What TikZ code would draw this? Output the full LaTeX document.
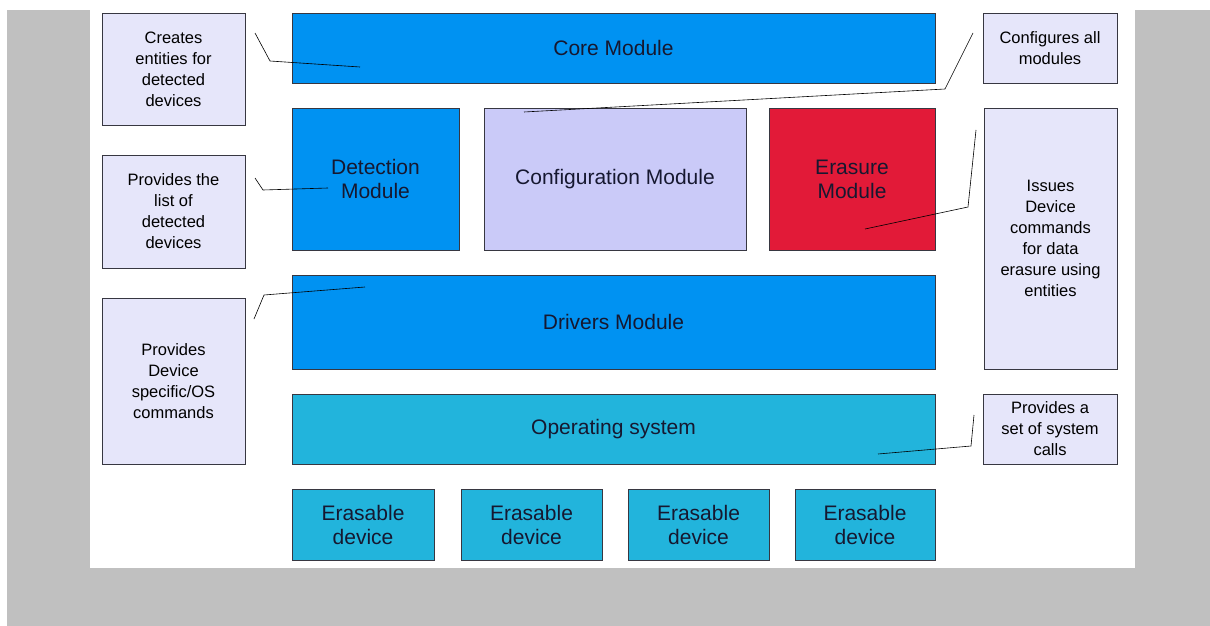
\documentclass[tikz,border=0pt]{standalone}
\usepackage{fontspec}
\setmainfont{Liberation Sans}
\usetikzlibrary{positioning}
\definecolor{modblue}{RGB}{0,146,242}
\definecolor{confcol}{RGB}{202,202,248}
\definecolor{erascol}{RGB}{226,26,56}
\definecolor{oscol}{RGB}{34,180,220}
\definecolor{notecol}{RGB}{230,230,250}
\definecolor{edgecol}{RGB}{55,55,65}
\definecolor{modtext}{RGB}{22,24,48}
\definecolor{backcol}{RGB}{192,192,192}

\begin{document}
\begin{tikzpicture}[x=1pt, y=-1pt, node distance=25pt,
  mod/.style={draw=edgecol, line width=0.8pt, inner sep=0pt, outer sep=0pt, text=modtext, align=center, font=\fontsize{21}{24}\selectfont},
  note/.style={mod, fill=notecol, text=black, font=\fontsize{16.5}{21}\selectfont},
  callout/.style={black, line width=0.6pt}]
	\useasboundingbox (0,0) rectangle (1210,626);
	\fill[backcol] (7,10) rectangle (1210,626);
	\fill[white] (90,0) rectangle (1135,568);
	\node[mod, fill=modblue, minimum width=643pt, minimum height=70pt, anchor=north west] (core) at (292,13) {Core Module};
	\node[mod, fill=modblue, minimum width=167pt, minimum height=142pt, below=25pt of core.south west, anchor=north west] (detect) {Detection\\Module};
	\node[mod, fill=confcol, minimum width=262pt, minimum height=142pt, right=25pt of detect.north east, anchor=north west] (config) {Configuration Module};
	\node[mod, fill=erascol, minimum width=166pt, minimum height=142pt, right=23pt of config.north east, anchor=north west] (erase) {Erasure\\Module};
	\node[mod, fill=modblue, minimum width=643pt, minimum height=94pt, below=25pt of detect.south west, anchor=north west] (drivers) {Drivers Module};
	\node[mod, fill=oscol, minimum width=643pt, minimum height=70pt, below=25pt of drivers.south west, anchor=north west] (os) {Operating system};
	\node[mod, fill=oscol, minimum width=142pt, minimum height=71pt, below=25pt of os.south west, anchor=north west] (dev1) {Erasable\\device};
	\node[mod, fill=oscol, minimum width=141pt, minimum height=71pt, right=27pt of dev1.north east, anchor=north west] (dev2) {Erasable\\device};
	\node[mod, fill=oscol, minimum width=141pt, minimum height=71pt, right=26pt of dev2.north east, anchor=north west] (dev3) {Erasable\\device};
	\node[mod, fill=oscol, minimum width=140pt, minimum height=71pt, right=26pt of dev3.north east, anchor=north west] (dev4) {Erasable\\device};
	\node[note, minimum width=143pt, minimum height=112pt, anchor=north west] (ncreate) at (102,13) {Creates\\entities for\\detected\\devices};
	\node[note, minimum width=143pt, minimum height=113pt, below=30pt of ncreate.south west, anchor=north west] (nlist) {Provides the\\list of\\detected\\devices};
	\node[note, minimum width=143pt, minimum height=166pt, below=30pt of nlist.south west, anchor=north west] (ncmd) {Provides\\Device\\specific/OS\\commands};
	\node[note, minimum width=134pt, minimum height=70pt, anchor=north west] (nconf) at (983,13) {Configures all\\modules};
	\node[note, minimum width=133pt, minimum height=261pt, below=25pt of nconf.south west, anchor=north west, xshift=1pt] (nissue) {Issues\\Device\\commands\\for data\\erasure using\\entities};
	\node[note, minimum width=134pt, minimum height=70pt, below=25pt of nissue.south west, anchor=north west, xshift=-1pt] (ncall) {Provides a\\set of system\\calls};
	\coordinate (a1) at (255,33); \coordinate (b1) at (270,61); \coordinate (e1) at (360,67);
	\coordinate (a2) at (973,33); \coordinate (b2) at (945,89); \coordinate (e2) at (524,112);
	\coordinate (a3) at (255,178); \coordinate (b3) at (263,190); \coordinate (e3) at (328,188);
	\coordinate (a4) at (976,130); \coordinate (b4) at (968,207); \coordinate (e4) at (865,229);
	\coordinate (a5) at (254,319); \coordinate (b5) at (264,295); \coordinate (e5) at (365,287);
	\coordinate (a6) at (974,415); \coordinate (b6) at (971,446); \coordinate (e6) at (878,454);
	\foreach \i in {1,...,6} \draw[callout] (a\i) -- (b\i) -- (e\i);
\end{tikzpicture}
\end{document}
